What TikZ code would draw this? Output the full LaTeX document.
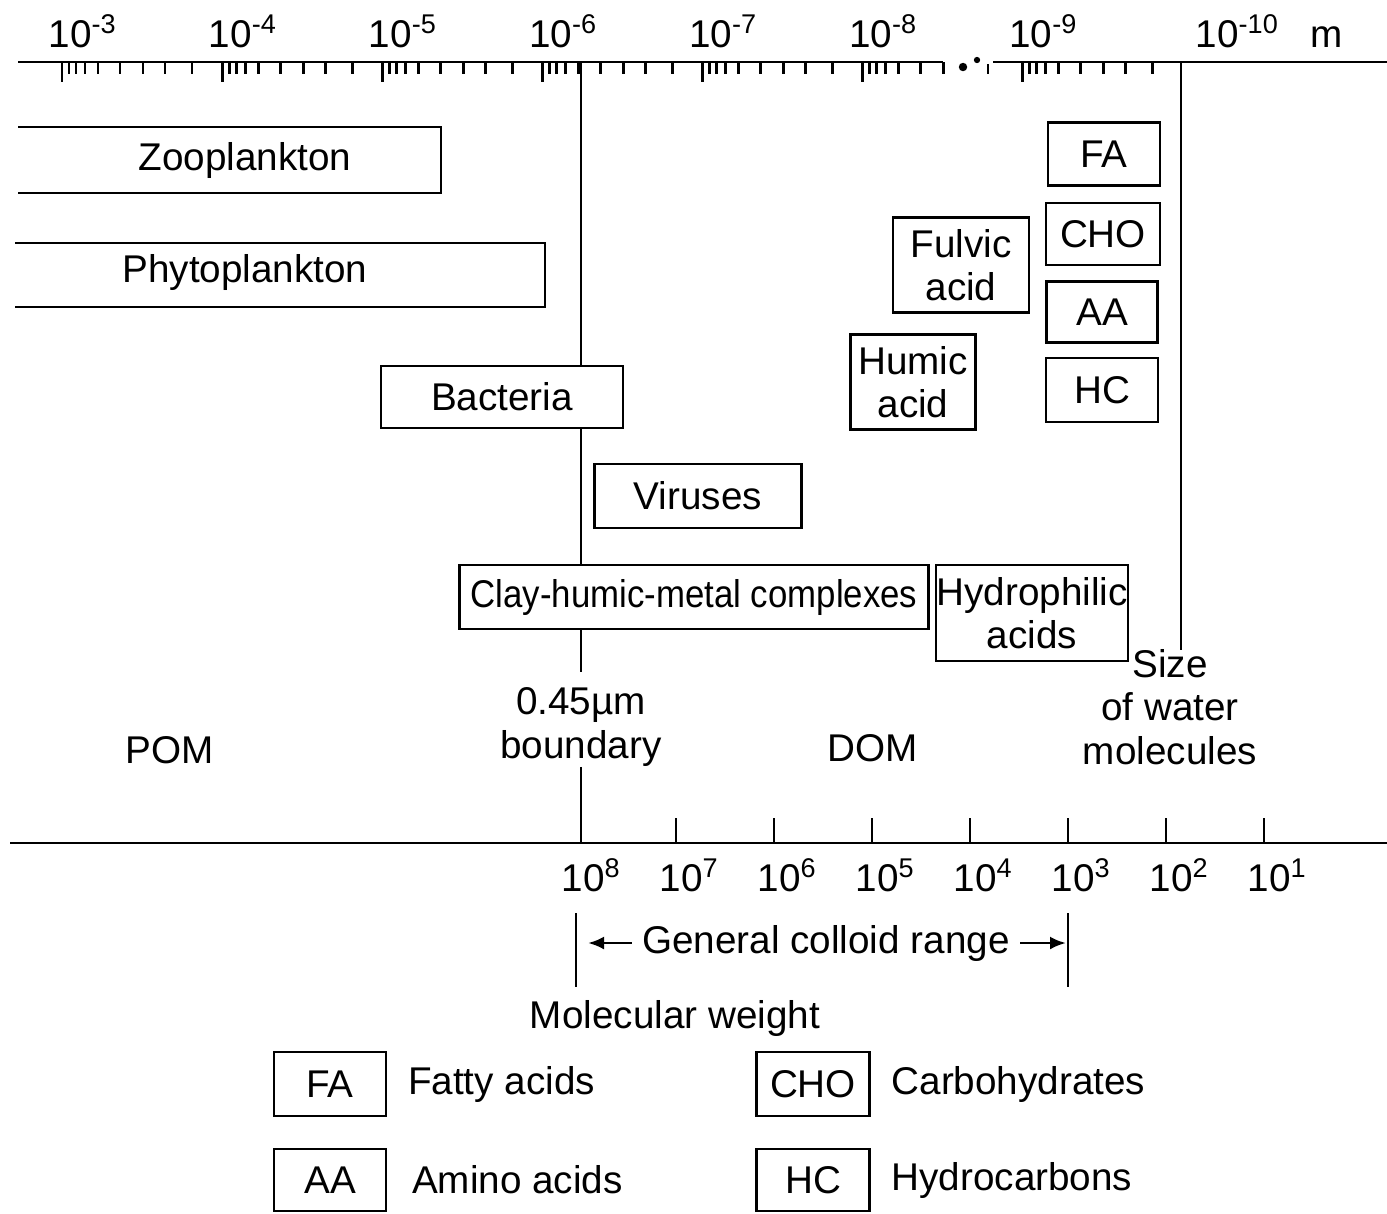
\documentclass[tikz,border=0pt]{standalone}
\usepackage{fontspec}
\setmainfont{Liberation Sans}
\usetikzlibrary{arrows.meta,positioning}

\begin{document}
\begin{tikzpicture}[x=0.1mm, y=-0.1mm, >={Latex[length=1.6mm,width=1.3mm]}, node distance=2mm and 2mm,
	font=\fontsize{11}{12.3}\selectfont]
		\tikzset{
			box/.style={draw=black, line width=0.8pt, fill=white, inner sep=0pt, align=center},
			sz/.style n args={2}{minimum width=#1*0.1mm, minimum height=#2*0.1mm},
			ln/.style={line width=0.8pt},
			lbl/.style={inner sep=0pt, align=center},
		}
		\useasboundingbox (0,0) rectangle (1387,1213);
		
		% size scale (m)
		\draw[ln] (18,62) -- (943,62);
		\draw[ln] (993,62) -- (1387,62);
		\fill (963,67) circle (1.2pt);
		\fill (977,60) circle (0.9pt);
		\draw[ln] (988,64) -- (988,74);
		\foreach \d in {0,...,6}
			\draw[ln] ({62+160.1*\d},62) -- ++(0,20);
		\foreach \d in {0,1,2,3,4,6}
			\foreach \o in {7,14,23,36,58,81,103,130}
				\draw[ln] ({62+160.1*\d+\o},62) -- ++(0,12);
		\foreach \o in {7,14,23,36,58,81}
			\draw[ln] ({62+160.1*5+\o},62) -- ++(0,12);
		\foreach \e [count=\i from 0] in {3,...,9}
			\node[lbl, anchor=base west] (t\e) at ({62+160.1*\i-14},47) {10\textsuperscript{-\e}};
		\node[lbl, anchor=base west] (t10) at (1195,47) {10\textsuperscript{-10}};
		\node[lbl, anchor=base] (unit) at (1327,47) {m};
		
		% boundary lines
		\coordinate (bt) at (581,62);
		\coordinate (bm) at (581,672);
		\coordinate (bb) at (581,843);
		\node[lbl] (bnd) at (581,727) {0.45µm\\boundary};
		\draw[ln] (bt) -- (bm);
		\draw[ln] (bnd.south) -- (bb);
		\coordinate (wt) at (1181,62);
		\coordinate (wb) at (1181,650);
		\draw[ln] (wt) -- (wb);
		
		% organisms
		\draw[ln] (18,127) -| (441,193) -- (18,193);
		\node[lbl] (zoo) at (245,160) {Zooplankton};
		\draw[ln] (15,243) -| (545,307) -- (15,307);
		\node[lbl] (phy) at (245,272) {Phytoplankton};
		\node[box, sz={242}{62}] (bac) at (502,397) {Bacteria};
		\node[box, sz={207}{64}] (vir) at (698,496) {Viruses};
		\node[box, sz={469}{64}] (clay) at (694,597) {\scalebox{0.9}[1]{Clay-humic-metal complexes}};
		\node[box, sz={192}{96}] (hyd) at (1032,613) {Hydrophilic\\acids};
		\node[box, sz={136}{95}] (ful) at (961,265) {Fulvic\\acid};
		\node[box, sz={125}{95}] (hum) at (913,382) {Humic\\acid};
		\node[box, sz={112}{63}] (fa) at (1104,154) {FA};
		\node[box, sz={114}{62}] (cho) at (1103,234) {CHO};
		\node[box, sz={111}{61}] (aa) at (1102,312) {AA};
		\node[box, sz={112}{64}] (hc) at (1102,390) {HC};
		
		\node[lbl] (pom) at (170,750) {POM};
		\node[lbl] (dom) at (873,748) {DOM};
		\node[lbl] (wat) at (1170,707) {Size\\of water\\molecules};
		
		% molecular weight scale
		\draw[ln] (10,843) -- (1387,843);
		\foreach \v [count=\i from 0] in {8,7,...,1}{
			\ifnum\i>0 \draw[ln] ({578+98*\i},843) -- ++(0,-25); \fi
			\node[lbl, anchor=base west] (mw\v) at ({578+98*\i-17},891) {10\textsuperscript{\v}};
		}
		\coordinate (ca) at (576,913);
		\coordinate (cb) at (576,987);
		\coordinate (cc) at (1068,913);
		\coordinate (cd) at (1068,987);
		\draw[ln] (ca) -- (cb);
		\draw[ln] (cc) -- (cd);
		\node[lbl] (gcr) at (826,943) {General colloid range};
		\coordinate (gl) at (588,943);
		\coordinate (gr) at (1066,943);
		\draw[ln, ->] ([xshift=-1mm]gcr.west) -- (gl);
		\draw[ln, ->] ([xshift=1mm]gcr.east) -- (gr);
		\node[lbl] (mol) at (675,1018) {Molecular weight};
		
		% key
		\node[box, sz={112}{64}] (kfa) at (330,1084) {FA};
		\node[box, sz={113}{64}] (kcho) at (813,1084) {CHO};
		\node[box, sz={112}{62}] (kaa) at (330,1180) {AA};
		\node[box, sz={113}{62}] (khc) at (813,1180) {HC};
		\node[lbl, right=of kfa] (kfat) {Fatty acids};
		\node[lbl, right=of kcho] (kchot) {Carbohydrates};
		\node[lbl, right=2.4mm of kaa] (kaat) {Amino acids};
		\node[lbl, right=of khc] (khct) {Hydrocarbons};
	\end{tikzpicture}
\end{document}
